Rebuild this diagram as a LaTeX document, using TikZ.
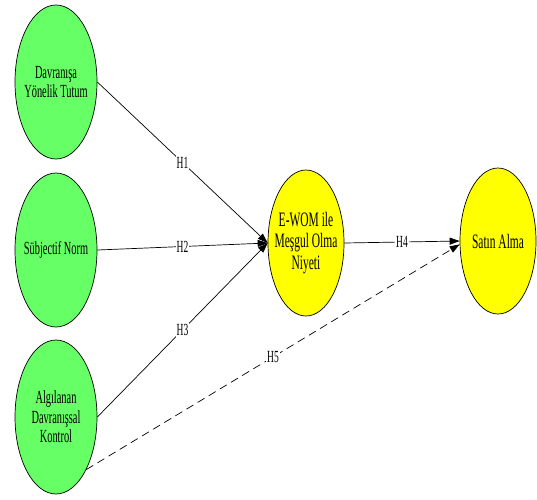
\documentclass[tikz,border=0pt]{standalone}
\usepackage{fontspec}
\setmainfont{Liberation Serif}[FakeStretch=0.56]
\usetikzlibrary{shapes.geometric,arrows.meta}
\definecolor{lgreen}{RGB}{102,255,102}
\definecolor{lyellow}{RGB}{255,255,0}
\begin{document}
\begin{tikzpicture}[x=1pt,y=-1pt,
  ell/.style={ellipse,draw=black,line width=0.7pt,inner sep=0pt},
  grn/.style={ell,fill=lgreen,minimum width=82pt,minimum height=154pt},
  ylw/.style={ell,fill=lyellow,minimum width=76pt,minimum height=146pt},
  txt/.style={align=center,inner sep=0pt,font=\fontsize{18.5}{19.5}\selectfont},
  ytxt/.style={align=center,inner sep=0pt,font=\fontsize{20.5}{21.5}\selectfont},
  conn/.style={line width=0.7pt,-{Triangle[length=10pt,width=7pt]}},
  dconn/.style={conn,dash pattern=on 8pt off 5pt},
  hyp/.style={fill=white,inner sep=1pt,font=\fontsize{17}{17}\selectfont}
]
\useasboundingbox (0,0) rectangle (537,499);
\node[grn] (A) at (56,82) {};
\node[grn] (B) at (56,250) {};
\node[grn] (C) at (56,417) {};
\node[ylw] (E) at (306,243) {};
\node[ylw] (S) at (498,241) {};
\node[txt] (At) at (A) {Davranışa\\Yönelik Tutum};
\node[txt] (Bt) at (B) {Sübjectif Norm};
\node[txt] (Ct) at (C) {Algılanan\\Davranışsal\\Kontrol};
\node[ytxt] (Et) at (E) {E-WOM ile\\Meşgul Olma\\Niyeti};
\node[ytxt] (St) at (S) {Satın Alma};
\draw[conn] (A.east) -- node[hyp] (h1) {H1} (E.west);
\draw[conn] (B.east) -- node[hyp] (h2) {H2} (E.west);
\draw[conn] (C.east) -- node[hyp] (h3) {H3} (E.west);
\draw[conn] (E.east) -- node[hyp] (h4) {H4} (S.west);
\draw[dconn] (C.-60) -- node[hyp] (h5) {H5} (S.185);
\end{tikzpicture}
\end{document}
